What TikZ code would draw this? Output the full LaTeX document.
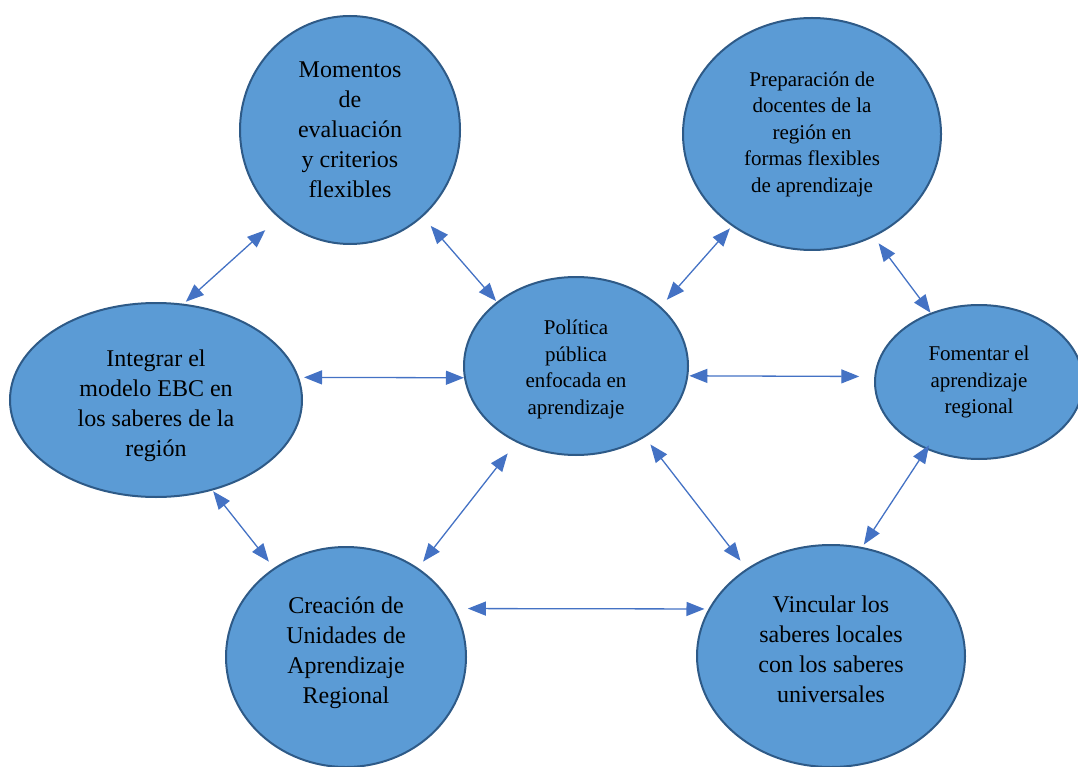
\documentclass[tikz,border=0pt]{standalone}
\usepackage{fontspec}
\setmainfont{Liberation Serif}
\usetikzlibrary{shapes.geometric}
\usetikzlibrary{arrows.meta}

\definecolor{globoazul}{HTML}{5B9BD5}
\definecolor{bordeazul}{HTML}{2E5A87}
\definecolor{flechaazul}{HTML}{4472C4}

\tikzset{
  globo/.style={ellipse, fill=globoazul, draw=bordeazul, line width=2pt,
    inner sep=0pt, align=center},
  grande/.style={font=\fontsize{24}{30}\selectfont},
  chico/.style={font=\fontsize{21}{26.5}\selectfont},
  flecha/.style={draw=flechaazul, line width=1.3pt,
    {Triangle[length=18pt,width=14pt]}-{Triangle[length=18pt,width=14pt]}}
}

\begin{document}
\begin{tikzpicture}[x=1pt,y=-1pt]
\useasboundingbox (0,0) rectangle (1078,767);
%\draw (0,0) rectangle (1078,767);
\node[globo,grande,minimum width=220pt,minimum height=228pt] (mom) at (350,130)
  {Momentos\\de\\evaluación\\y criterios\\flexibles};
\node[globo,chico,minimum width=258pt,minimum height=232pt] (prep) at (812,134)
  {Preparación de\\docentes de la\\región en\\formas flexibles\\de aprendizaje};
\node[globo,grande,minimum width=292pt,minimum height=194pt] (int) at (156,400)
  {\rule{0pt}{29pt}Integrar el\\modelo EBC en\\los saberes de la\\región};
\node[globo,chico,minimum width=224pt,minimum height=178pt] (pol) at (576,366)
  {\rule{0pt}{21pt}Política\\pública\\enfocada en\\aprendizaje};
\node[globo,chico,minimum width=208pt,minimum height=154pt] (fom) at (979,382)
  {Fomentar el\\aprendizaje\\regional};
\node[globo,grande,minimum width=240pt,minimum height=220pt] (cre) at (346,657)
  {Creación de\\Unidades de\\Aprendizaje\\Regional\rule[-13pt]{0pt}{0pt}};
\node[globo,grande,minimum width=268pt,minimum height=222pt] (vin) at (831,656)
  {Vincular los\\saberes locales\\con los saberes\\universales\rule[-14pt]{0pt}{0pt}};
% flechas dobles
\draw[flecha, shorten <=18pt, shorten >=3pt] (mom.231) -- (int.74);
\draw[flecha, shorten <=12pt, shorten >=1pt] (mom.310) -- (pol.141);
\draw[flecha, shorten <=5pt] (int.9) -- (pol.186);
\draw[flecha, shorten <=9pt, shorten >=3pt] (pol.35) -- (prep.229);
\draw[flecha, shorten <=8pt] (prep.301) -- (fom.125);
\draw[flecha, shorten <=1pt, shorten >=15pt] (pol.355) -- (fom.177);
\draw[flecha, shorten <=1pt, shorten >=8pt] (int.302) -- (cre.129);
\draw[flecha, shorten <=14pt, shorten >=8pt] (pol.232) -- (cre.51);
\draw[flecha, shorten <=9pt, shorten >=10pt] (pol.314) -- (vin.134);
\draw[flecha, shorten <=-5pt, shorten >=3pt] (fom.232) -- (vin.74);
\draw[flecha, shorten <=13pt, shorten >=4pt] (cre.24.5) -- (vin.159.5);
\end{tikzpicture}
\end{document}
